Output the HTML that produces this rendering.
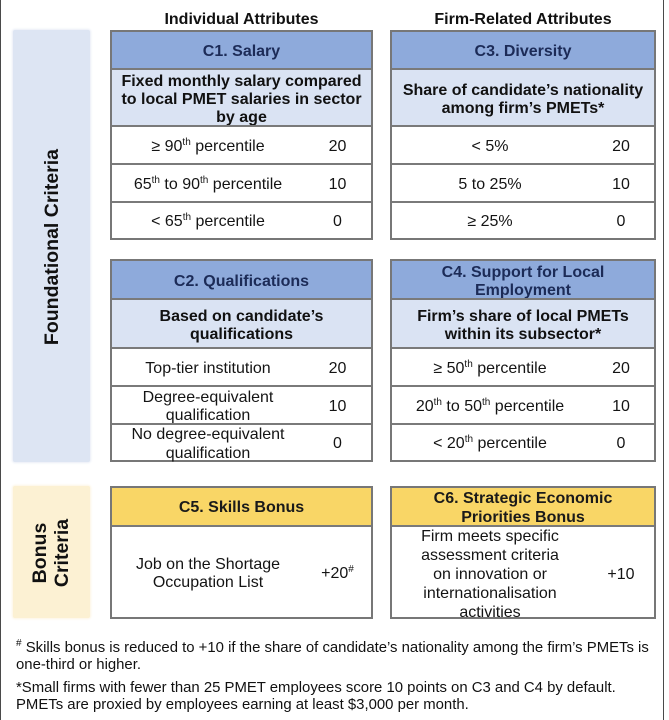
<!DOCTYPE html>
<html>
<head>
<meta charset="utf-8">
<style>
  html,body{margin:0;padding:0;background:#fff;}
  body{width:669px;height:720px;position:relative;overflow:hidden;
       font-family:"Liberation Sans",Arial,sans-serif;color:#141414;}
  .vline{position:absolute;top:0;width:1px;height:720px;background:#4a4a4a;}
  .title{position:absolute;top:11px;font-weight:bold;font-size:16px;line-height:18px;text-align:center;color:#111;}
  .side{position:absolute;left:13px;width:77px;border-radius:2px;}
  .side.blue{background:#dde5f3;box-shadow:0 0 2px 1px #e8edf6;}
  .side.yel{background:#fcf1d3;box-shadow:0 0 2px 1px #fdf5e2;}
  .vtext{position:absolute;transform:rotate(-90deg);transform-origin:center center;
         font-weight:bold;font-size:19.5px;line-height:22px;white-space:nowrap;text-align:center;color:#111;}
  .tbl{position:absolute;box-sizing:border-box;border:2px solid #777;background:#fff;display:flex;flex-direction:column;}
  .tbl > div{box-sizing:border-box;flex:none;padding-top:4px;}
  .tbl > div + div{border-top:2px solid #7a7a7a;}
  .hb{background:#8eaadb;color:#1c2b57;font-weight:bold;font-size:16px;line-height:18px;
      display:flex;align-items:center;justify-content:center;text-align:center;}
  .hy{background:#f9d666;color:#1a1a1a;font-weight:bold;font-size:16px;line-height:18.5px;
      display:flex;align-items:center;justify-content:center;text-align:center;}
  .sub{background:#dae3f3;font-weight:bold;font-size:16px;line-height:18px;color:#111;
       display:flex;align-items:center;justify-content:center;text-align:center;}
  .row{display:flex;align-items:center;font-size:16px;line-height:18.5px;}
  .row .lab{text-align:center;flex:none;}
  .row .val{text-align:center;flex:1;}
  .L .lab{width:192px;}
  .R .lab{width:196px;}
  sup{font-size:10px;line-height:0;vertical-align:6px;}
  .foot{position:absolute;left:16px;width:650px;font-size:14.9px;line-height:16.5px;color:#111;}
</style>
</head>
<body>
  <div class="vline" style="left:0;"></div>
  <div class="vline" style="left:663px;"></div>

  <div class="title" style="left:110px;width:263px;">Individual Attributes</div>
  <div class="title" style="left:390px;width:266px;">Firm-Related Attributes</div>

  <!-- Sidebars -->
  <div class="side blue" style="top:30px;height:432px;"></div>
  <div class="vtext" style="left:-48px;top:236px;width:200px;height:22px;">Foundational Criteria</div>

  <div class="side yel" style="top:486px;height:132px;"></div>
  <div class="vtext" style="left:1px;top:531px;width:100px;height:44px;">Bonus<br>Criteria</div>

  <!-- C1 -->
  <div class="tbl L" style="left:110px;top:30px;width:263px;height:210px;">
    <div class="hb" style="height:36px;">C1. Salary</div>
    <div class="sub" style="height:57px;">Fixed monthly salary compared<br>to local PMET salaries in sector<br>by age</div>
    <div class="row" style="height:38px;"><div class="lab">≥ 90<sup>th</sup> percentile</div><div class="val">20</div></div>
    <div class="row" style="height:38px;"><div class="lab">65<sup>th</sup> to 90<sup>th</sup> percentile</div><div class="val">10</div></div>
    <div class="row" style="height:37px;"><div class="lab">&lt; 65<sup>th</sup> percentile</div><div class="val">0</div></div>
  </div>

  <!-- C3 -->
  <div class="tbl R" style="left:390px;top:30px;width:266px;height:210px;">
    <div class="hb" style="height:36px;">C3. Diversity</div>
    <div class="sub" style="height:57px;">Share of candidate’s nationality<br>among firm’s PMETs*</div>
    <div class="row" style="height:38px;"><div class="lab">&lt; 5%</div><div class="val">20</div></div>
    <div class="row" style="height:38px;"><div class="lab">5 to 25%</div><div class="val">10</div></div>
    <div class="row" style="height:37px;"><div class="lab">≥ 25%</div><div class="val">0</div></div>
  </div>

  <!-- C2 -->
  <div class="tbl L" style="left:110px;top:259px;width:263px;height:203px;">
    <div class="hb" style="height:37px;">C2. Qualifications</div>
    <div class="sub" style="height:49px;">Based on candidate’s<br>qualifications</div>
    <div class="row" style="height:38px;"><div class="lab">Top-tier institution</div><div class="val">20</div></div>
    <div class="row" style="height:38px;"><div class="lab">Degree-equivalent<br>qualification</div><div class="val">10</div></div>
    <div class="row" style="height:37px;"><div class="lab">No degree-equivalent<br>qualification</div><div class="val">0</div></div>
  </div>

  <!-- C4 -->
  <div class="tbl R" style="left:390px;top:259px;width:266px;height:203px;">
    <div class="hb" style="height:37px;">C4. Support for Local<br>Employment</div>
    <div class="sub" style="height:49px;">Firm’s share of local PMETs<br>within its subsector*</div>
    <div class="row" style="height:38px;"><div class="lab">≥ 50<sup>th</sup> percentile</div><div class="val">20</div></div>
    <div class="row" style="height:38px;"><div class="lab">20<sup>th</sup> to 50<sup>th</sup> percentile</div><div class="val">10</div></div>
    <div class="row" style="height:37px;"><div class="lab">&lt; 20<sup>th</sup> percentile</div><div class="val">0</div></div>
  </div>

  <!-- C5 -->
  <div class="tbl L" style="left:110px;top:486px;width:263px;height:133px;">
    <div class="hy" style="height:37px;">C5. Skills Bonus</div>
    <div class="row" style="height:92px;"><div class="lab">Job on the Shortage<br>Occupation List</div><div class="val">+20<sup>#</sup></div></div>
  </div>

  <!-- C6 -->
  <div class="tbl R" style="left:390px;top:486px;width:266px;height:133px;">
    <div class="hy" style="height:37px;">C6. Strategic Economic<br>Priorities Bonus</div>
    <div class="row" style="height:92px;line-height:19px;"><div class="lab">Firm meets specific<br>assessment criteria<br>on innovation or<br>internationalisation<br>activities</div><div class="val">+10</div></div>
  </div>

  <!-- Footnotes -->
  <div class="foot" style="top:640px;"><sup>#</sup> Skills bonus is reduced to +10 if the share of candidate’s nationality among the firm’s PMETs is<br>one-third or higher.</div>
  <div class="foot" style="top:680px;">*Small firms with fewer than 25 PMET employees score 10 points on C3 and C4 by default.<br>PMETs are proxied by employees earning at least $3,000 per month.</div>
</body>
</html>
